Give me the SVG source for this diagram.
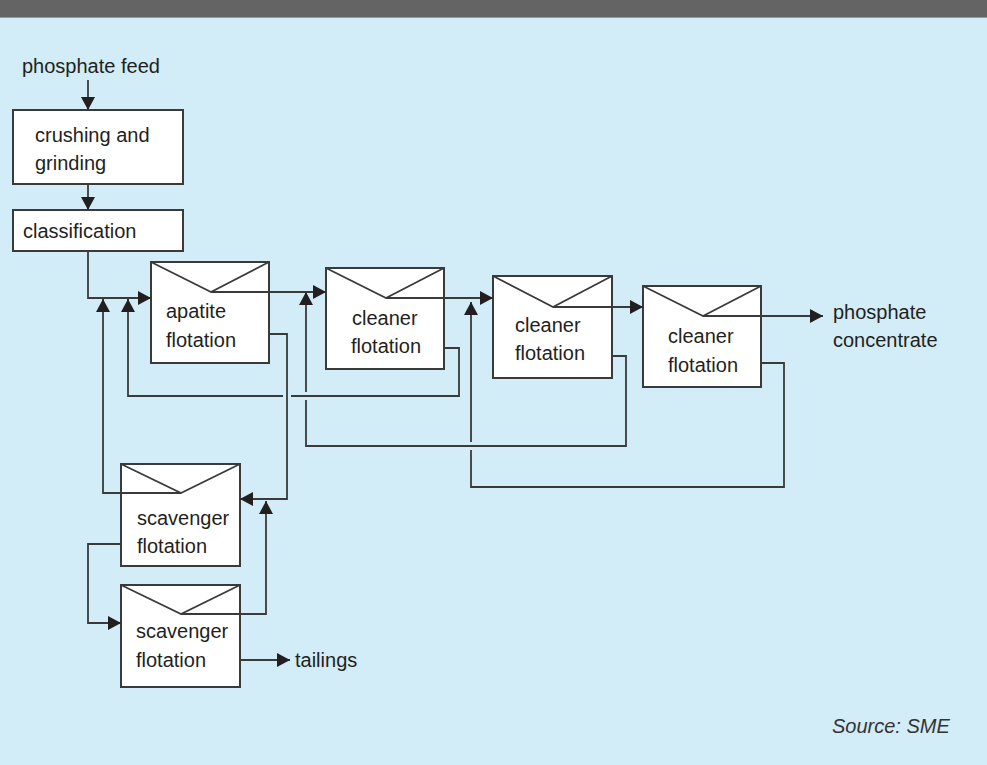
<svg xmlns="http://www.w3.org/2000/svg" width="987" height="765" viewBox="0 0 987 765">
<style>
.bx{fill:#fff;stroke:#3a3a3a;stroke-width:2}
.env{fill:none;stroke:#3a3a3a;stroke-width:1.8}
.t{font-family:"Liberation Sans",Arial,sans-serif;font-size:20px;fill:#231f20}
.c{fill:none;stroke:#3a3a3a;stroke-width:1.8}
.a{marker-end:url(#ah)}
.src{font-family:"Liberation Sans",Arial,sans-serif;font-size:20px;font-style:italic;fill:#333}
</style>
<defs>
<marker id="ah" markerUnits="userSpaceOnUse" markerWidth="15" markerHeight="15" refX="13" refY="7.5" orient="auto"><path d="M0,0.5 L13,7.5 L0,14.5 z" fill="#231f20"/></marker>
</defs>
<rect width="987" height="765" fill="#d2ecf8"/>
<rect width="987" height="17" fill="#646464"/>
<rect y="17" width="987" height="1" fill="#9a9a9a"/>

<g id="feed"><text class="t" x="22" y="73">phosphate feed</text></g>
<g id="crushing"><rect class="bx" x="13" y="110" width="170" height="74"/><text class="t" x="35" y="142">crushing and</text><text class="t" x="35" y="170">grinding</text></g>
<g id="classification"><rect class="bx" x="13" y="210" width="170" height="41"/><text class="t" x="23" y="238">classification</text></g>
<g id="apatite"><rect class="bx" x="151" y="262" width="118" height="101"/><polyline class="env" points="151,262 211,292 269,262"/><text class="t" x="166" y="318">apatite</text><text class="t" x="166" y="347">flotation</text></g>
<g id="cleaner1"><rect class="bx" x="326" y="268" width="118" height="101"/><polyline class="env" points="326,268 386,298 444,268"/><text class="t" x="352" y="325">cleaner</text><text class="t" x="351" y="353">flotation</text></g>
<g id="cleaner2"><rect class="bx" x="493" y="276" width="119" height="102"/><polyline class="env" points="493,276 553,307 612,276"/><text class="t" x="515" y="332">cleaner</text><text class="t" x="515" y="360">flotation</text></g>
<g id="cleaner3"><rect class="bx" x="643" y="286" width="118" height="101"/><polyline class="env" points="643,286 703,316 761,286"/><text class="t" x="668" y="343">cleaner</text><text class="t" x="668" y="372">flotation</text></g>
<g id="scavenger1"><rect class="bx" x="121" y="464" width="119" height="102"/><polyline class="env" points="121,464 181,493 240,464"/><text class="t" x="137" y="525">scavenger</text><text class="t" x="137" y="553">flotation</text></g>
<g id="scavenger2"><rect class="bx" x="121" y="585" width="119" height="102"/><polyline class="env" points="121,585 181,614 240,585"/><text class="t" x="136" y="638">scavenger</text><text class="t" x="136" y="667">flotation</text></g>
<g id="concentrate"><text class="t" x="833" y="319">phosphate</text><text class="t" x="833" y="347">concentrate</text></g>
<g id="tailings"><text class="t" x="295" y="667">tailings</text></g>

<g id="connectors">
<path class="c a" d="M88,80 V110"/>
<path class="c a" d="M88,184 V210"/>
<path class="c a" d="M88,251 V298 H151"/>
<path class="c a" d="M211,292 H326"/>
<path class="c a" d="M386,298 H493"/>
<path class="c a" d="M553,307 H643"/>
<path class="c a" d="M703,316 H823"/>
<path class="c a" d="M269,334 H287 V499 H240"/>
<path class="c a" d="M444,348 H459 V396 H291 M283,396 H128 V299"/>
<path class="c a" d="M612,356 H626 V446 H306 V400 M306,392 V292"/>
<path class="c a" d="M761,363 H784 V487 H471 V450 M471,442 V302"/>
<path class="c a" d="M181,493 H103 V299"/>
<path class="c a" d="M121,544 H88 V623 H121"/>
<path class="c a" d="M181,614 H266 V501"/>
<path class="c a" d="M240,660 H290"/>
</g>
<text class="src" x="832" y="733">Source: SME</text>
</svg>
